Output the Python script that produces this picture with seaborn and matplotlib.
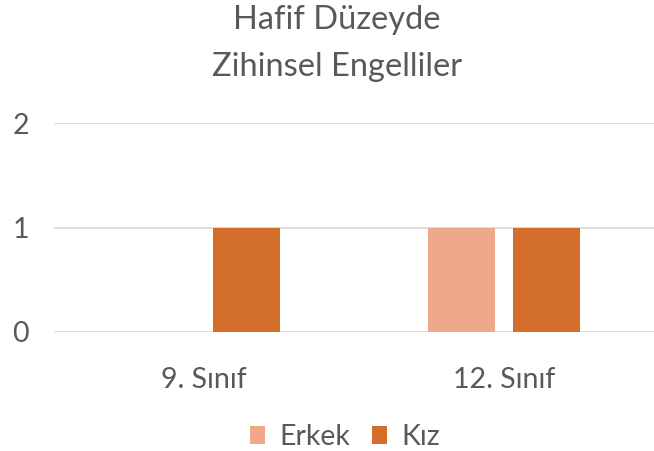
import pandas as pd
import matplotlib.pyplot as plt
import seaborn as sns

# Chart data
siniflar = ["9. Sınıf", "12. Sınıf"]
erkek = [0, 1]
kiz = [1, 1]
cinsiyet = ["Erkek", "Kız"]
renkler = ["#F0A88A", "#D26E2A"]

df = pd.DataFrame({
    "sinif": siniflar * 2,
    "cinsiyet": [cinsiyet[0]] * len(siniflar) + [cinsiyet[1]] * len(siniflar),
    "sayi": erkek + kiz,
})

sns.set_style("white")
plt.rcParams["font.family"] = ["Lato", "DejaVu Sans"]
grey = "#595959"

fig = plt.figure(figsize=(6.54, 4.51), dpi=100)
ax = fig.add_axes([54 / 654, 1 - 332 / 451, 600 / 654, 209 / 451])

sns.barplot(data=df, x="sinif", y="sayi", hue="cinsiyet", order=siniflar,
            hue_order=cinsiyet, palette=renkler, saturation=1,
            width=0.572, gap=0.22, linewidth=0, ax=ax, legend=True)

ax.set_xlim(-0.5, 1.5)
ax.set_ylim(0, 2)
ax.set_yticks([0, 1, 2])
ax.yaxis.grid(True, color="#D9D9D9", linewidth=1.3)
ax.set_axisbelow(True)
for s in ax.spines.values():
    s.set_visible(False)
ax.set_xlabel("")
ax.set_ylabel("")
ax.tick_params(axis="both", length=0, labelsize=20.5, colors=grey)
ax.tick_params(axis="x", pad=25)
ax.tick_params(axis="y", pad=30)
for lbl in ax.get_yticklabels():
    lbl.set_horizontalalignment("left")

fig.text(337 / 654, 1 - 20 / 451, "Hafif Düzeyde", ha="center", va="center",
         fontsize=23.5, color=grey)
fig.text(337 / 654, 1 - 67 / 451, "Zihinsel Engelliler", ha="center", va="center",
         fontsize=23.5, color=grey)

ax.legend(loc="center", bbox_to_anchor=(345 / 654, 1 - 437 / 451),
          bbox_transform=fig.transFigure, ncol=2, frameon=False,
          fontsize=20.5, handlelength=0.55, handleheight=0.55,
          handletextpad=0.5, columnspacing=0.75, labelcolor=grey)

fig.savefig("out.png", dpi=100)
